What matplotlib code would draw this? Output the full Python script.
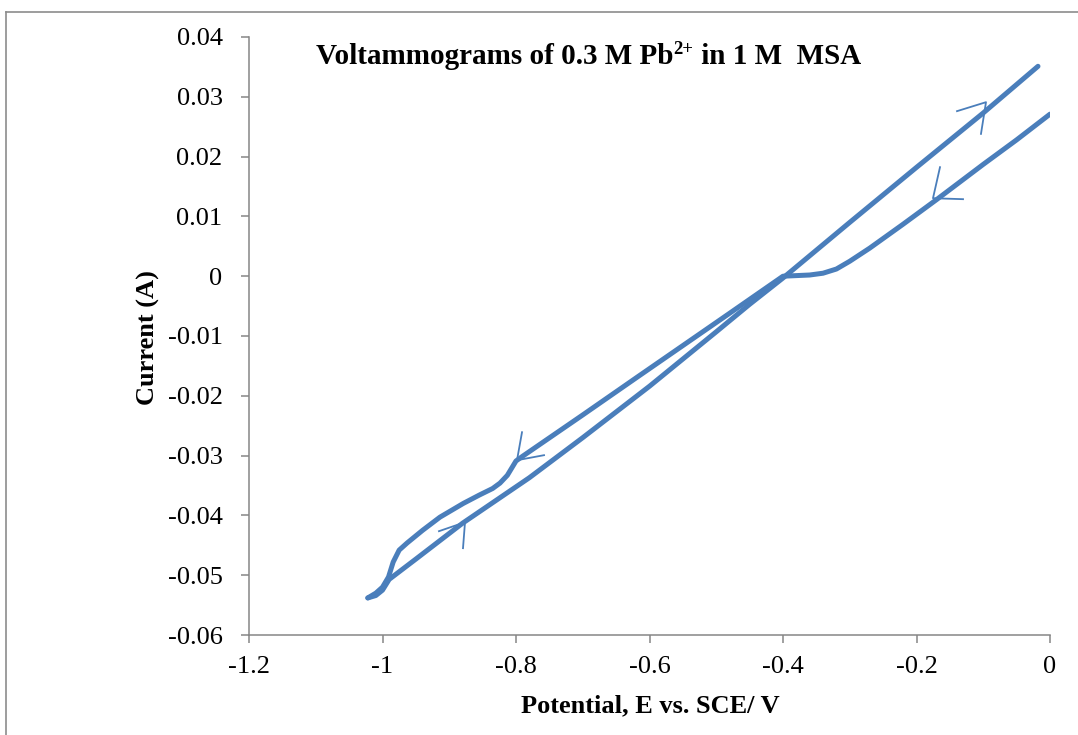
import matplotlib
import numpy as np
import matplotlib.pyplot as plt

matplotlib.use('Agg')

# cathodic sweep: 0 V -> -1.02 V
e_cathodic = [0.0, -0.05, -0.10, -0.17, -0.22, -0.27, -0.30, -0.32, -0.34, -0.36, -0.38, -0.40,
              -0.44, -0.48, -0.55, -0.62, -0.70, -0.76, -0.79, -0.80, -0.813, -0.824, -0.835,
              -0.855, -0.879, -0.914, -0.94, -0.963, -0.975, -0.984, -0.991, -1.00, -1.01, -1.022]
i_cathodic = [0.0271, 0.0228, 0.0187, 0.0128, 0.0087, 0.0047, 0.0025, 0.0012, 0.0005, 0.0002, 0.0001, 0.0,
              -0.0031, -0.0062, -0.0116, -0.0170, -0.0232, -0.0278, -0.0301, -0.0309, -0.0333, -0.0346, -0.0355,
              -0.0366, -0.0380, -0.0403, -0.0425, -0.0446, -0.0458, -0.0478, -0.0503, -0.0520, -0.0530, -0.0538]

# anodic sweep: -1.02 V -> -0.02 V
e_anodic = [-1.022, -1.01, -1.00, -0.99, -0.95, -0.88, -0.78, -0.70, -0.60, -0.50, -0.45, -0.40,
            -0.30, -0.20, -0.10, -0.018]
i_anodic = [-0.0538, -0.0534, -0.0525, -0.0507, -0.0473, -0.0413, -0.0337, -0.0270, -0.0184, -0.0093,
            -0.0047, -0.0003, 0.0090, 0.0182, 0.0273, 0.0351]

# scan direction arrows: (barb 1, tip, barb 2) in data units
arrow_x = [[-0.1393, -0.0959, -0.1034],
           [-0.1648, -0.1753, -0.1303],
           [-0.7910, -0.7985, -0.7580],
           [-0.9154, -0.8764, -0.8794]]
arrow_y = [[0.0276, 0.0291, 0.0238],
           [0.01823, 0.01304, 0.01288],
           [-0.02609, -0.03077, -0.02993],
           [-0.04264, -0.04114, -0.04548]]

x_ticks = [-1.2, -1.0, -0.8, -0.6, -0.4, -0.2, 0.0]
x_tick_labels = ['-1.2', '-1', '-0.8', '-0.6', '-0.4', '-0.2', '0']
y_ticks = [-0.06, -0.05, -0.04, -0.03, -0.02, -0.01, 0.0, 0.01, 0.02, 0.03, 0.04]
y_tick_labels = ['-0.06', '-0.05', '-0.04', '-0.03', '-0.02', '-0.01', '0', '0.01', '0.02', '0.03', '0.04']

blue = '#4a7ebb'
grey = '#868686'

plt.rcParams['font.family'] = ['Liberation Serif', 'DejaVu Serif']

W, H = 1078, 735
fig = plt.figure(figsize=(W / 100, H / 100), dpi=100)
ax = fig.add_axes([249 / W, 1 - 635 / H, 801 / W, 598 / H])

ax.plot(e_cathodic, i_cathodic, color=blue, lw=3.6, solid_capstyle='round', solid_joinstyle='round')
ax.plot(e_anodic, i_anodic, color=blue, lw=3.6, solid_capstyle='round', solid_joinstyle='round')
for xs, ys in zip(arrow_x, arrow_y):
    ax.plot(xs, ys, color=blue, lw=1.3)

ax.set_xlim(-1.2, 0)
ax.set_ylim(-0.06, 0.04)
ax.set_xticks(x_ticks)
ax.set_xticklabels(x_tick_labels)
ax.set_yticks(y_ticks)
ax.set_yticklabels(y_tick_labels)
for s in ['top', 'right']:
    ax.spines[s].set_visible(False)
for s in ['left', 'bottom']:
    ax.spines[s].set_color(grey)
    ax.spines[s].set_linewidth(1.1)
ax.tick_params(axis='both', direction='out', length=6, width=1.1, color=grey, labelsize=19)
ax.tick_params(axis='y', pad=13)
ax.tick_params(axis='x', pad=9)

# title: superscript drawn as a separate, smaller text
title_a = fig.text(316 / W, 1 - 57 / H, 'Voltammograms of 0.3 M Pb', fontsize=21,
                   fontweight='bold', ha='left', va='center')
fig.canvas.draw()
bb = title_a.get_window_extent()
sup = fig.text(bb.x1 / W, 1 - 50 / H, '2+', fontsize=13.5, fontweight='bold',
               ha='left', va='center')
fig.canvas.draw()
bb2 = sup.get_window_extent()
fig.text(bb2.x1 / W, 1 - 57 / H, ' in 1 M  MSA', fontsize=21, fontweight='bold',
         ha='left', va='center')

fig.text(650 / W, 1 - 706 / H, 'Potential, E vs. SCE/ V', fontsize=19, fontweight='bold',
         ha='center', va='center')
fig.text(148 / W, 1 - 338 / H, 'Current (A)', fontsize=19, fontweight='bold', rotation=90,
         ha='center', va='center')

# chart border (top and left edges visible)
fig.add_artist(plt.Line2D([6 / W, 1], [1 - 12 / H, 1 - 12 / H], color='#8c8c8c', lw=1.2))
fig.add_artist(plt.Line2D([6 / W, 6 / W], [0, 1 - 12 / H], color='#8c8c8c', lw=1.2))

fig.savefig('out.png', dpi=100)
